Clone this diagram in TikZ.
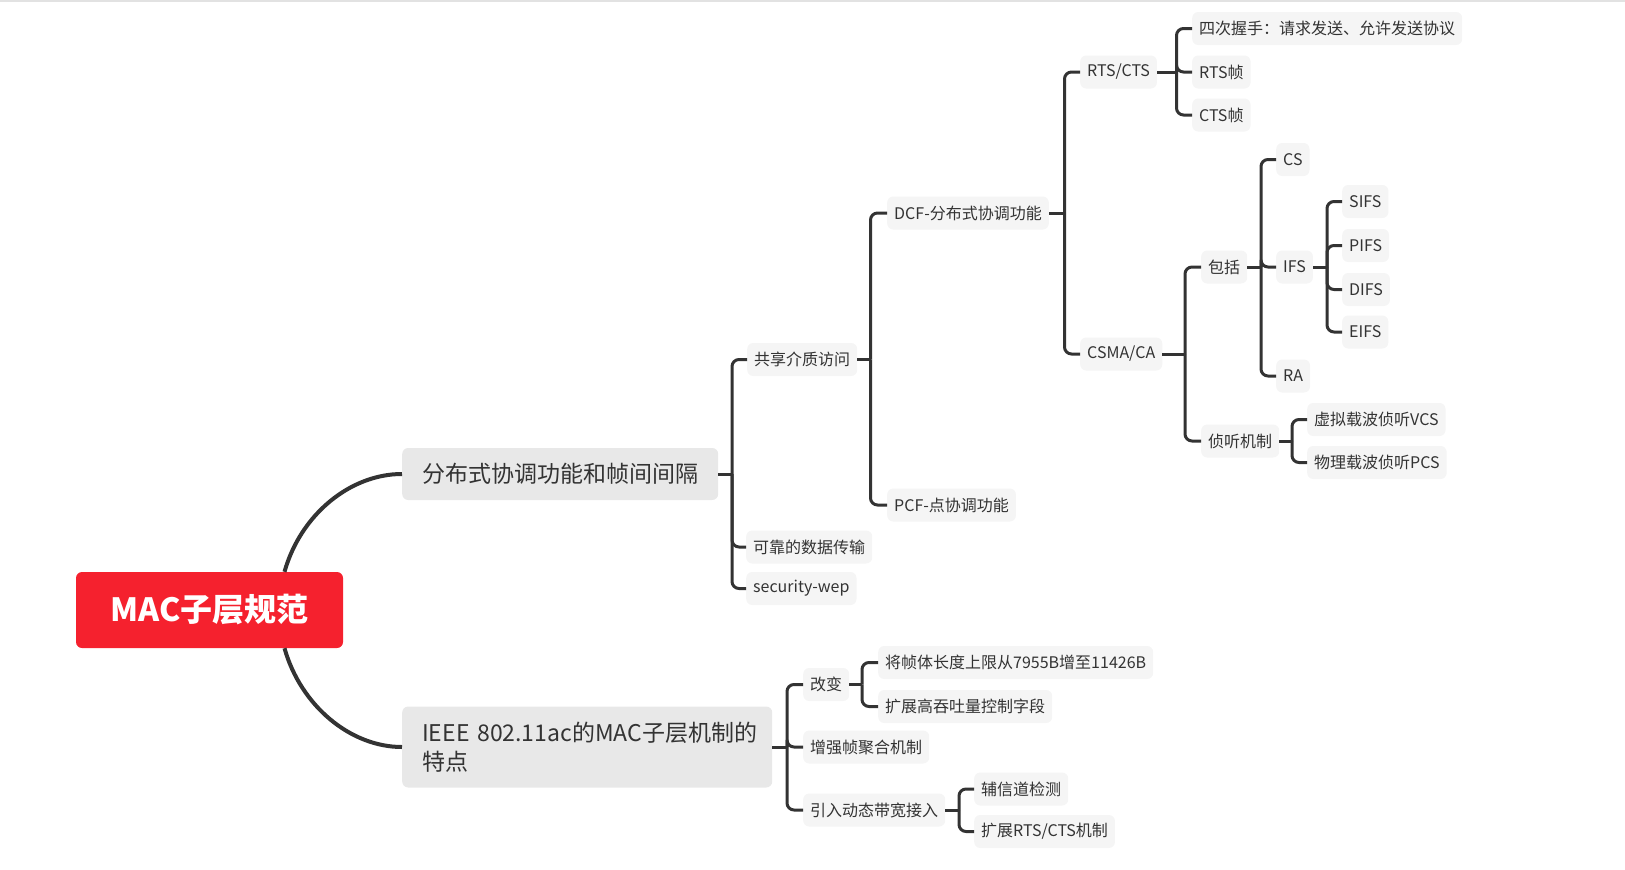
\documentclass[tikz,border=0pt]{standalone}
\usepackage{fontspec}
\newfontfamily\cjk{Noto Sans CJK SC}
\usetikzlibrary{calc}
\definecolor{rootred}{HTML}{F5212E}
\definecolor{lonefill}{HTML}{E8E8E8}
\definecolor{leaffill}{HTML}{F5F5F5}
\definecolor{linec}{HTML}{333333}
\definecolor{textc}{HTML}{333333}
\definecolor{topline}{HTML}{E2E2E2}
\begin{document}
\begin{tikzpicture}[x=1pt,y=-1pt,
  conn/.style={draw=linec, line width=3pt, rounded corners=7pt},
  maincurve/.style={draw=linec, line width=4pt},
  leaf/.style={anchor=west, fill=leaffill, rounded corners=6pt, inner xsep=7pt, inner ysep=0pt,
    minimum height=33pt, text=textc, font=\cjk\fontsize{16}{19}\selectfont},
  lone/.style={anchor=west, fill=lonefill, rounded corners=6pt, inner xsep=20pt, inner ysep=0pt,
    text=textc, font=\cjk\fontsize{23}{29}\selectfont},
  rootbox/.style={fill=rootred, rounded corners=6pt, minimum width=267pt, minimum height=76pt,
    text=white, font=\cjk\bfseries\fontsize{32}{38}\selectfont}]
\useasboundingbox (0,0) rectangle (1625,870);
\fill[topline] (0,0) rectangle (1625,2);

% root
\node[rootbox] (root) at (209.5,610) {MAC子层规范};
% level 1
\node[lone, minimum height=52pt] (dcfifs) at (402,474) {分布式协调功能和帧间间隔};
\node[lone, minimum height=81pt, text width=330pt, align=left] (ieee) at (402,747)
  {\mbox{IEEE 802.11ac的MAC子层机制的}\\特点};

% branch A
\node[leaf] (share) at (747,359.5) {共享介质访问};
\node[leaf] (reliable) at (746,547) {可靠的数据传输};
\node[leaf] (sec) at (746,588.5) {security-wep};
\node[leaf] (dcf) at (887,213) {DCF-分布式协调功能};
\node[leaf] (pcf) at (887,505) {PCF-点协调功能};
\node[leaf] (rtscts) at (1080,72) {RTS/CTS};
\node[leaf] (csma) at (1080,354) {CSMA/CA};
\node[leaf] (four) at (1192,28.5) {四次握手：请求发送、允许发送协议};
\node[leaf] (rtsf) at (1192,72) {RTS帧};
\node[leaf] (ctsf) at (1192,115) {CTS帧};
\node[leaf] (incl) at (1201,267) {包括};
\node[leaf] (listen) at (1201,441) {侦听机制};
\node[leaf] (cs) at (1276,159.5) {CS};
\node[leaf] (ifs) at (1276,267) {IFS};
\node[leaf] (ra) at (1276,376) {RA};
\node[leaf] (sifs) at (1342,201.5) {SIFS};
\node[leaf] (pifs) at (1342,245.5) {PIFS};
\node[leaf] (difs) at (1342,289.5) {DIFS};
\node[leaf] (eifs) at (1342,332) {EIFS};
\node[leaf] (vcs) at (1307,419.5) {虚拟载波侦听VCS};
\node[leaf] (pcs) at (1307,462.5) {物理载波侦听PCS};

% branch B
\node[leaf] (change) at (803,684.5) {改变};
\node[leaf] (aggr) at (803,747) {增强帧聚合机制};
\node[leaf] (dyn) at (803,810) {引入动态带宽接入};
\node[leaf] (frame) at (878,662.5) {将帧体长度上限从7955B增至11426B};
\node[leaf] (htc) at (878,706.5) {扩展高吞吐量控制字段};
\node[leaf] (sec2) at (974,789) {辅信道检测};
\node[leaf] (ertscts) at (974,831.5) {扩展RTS/CTS机制};

% bus x positions
\coordinate (bA) at (732,0);
\coordinate (bShare) at (870.5,0);
\coordinate (bDcf) at (1064.5,0);
\coordinate (bRts) at (1176.5,0);
\coordinate (bCsma) at (1185,0);
\coordinate (bIncl) at (1261,0);
\coordinate (bIfs) at (1327,0);
\coordinate (bListen) at (1292,0);
\coordinate (bB) at (787,0);
\coordinate (bChange) at (862,0);
\coordinate (bDyn) at (959,0);

% main curves
\draw[maincurve] ($(root.north)+(75,0)$) .. controls ($(root.north)+(91,-57)$) and ($(dcfifs.west)+(-52,0)$) .. (dcfifs.west);
\draw[maincurve] ($(root.south)+(75,0)$) .. controls ($(root.south)+(91,57)$) and ($(ieee.west)+(-52,0)$) .. (ieee.west);

% connectors
\newcommand\branch[3]{%
  \draw[conn] (#1.east) -- (#1.east -| #2);
  \foreach \c in {#3} \draw[conn] (#1.east -| #2) |- (\c.west);
}
\branch{dcfifs}{bA}{share,reliable,sec}
\branch{share}{bShare}{dcf,pcf}
\branch{dcf}{bDcf}{rtscts,csma}
\branch{rtscts}{bRts}{four,rtsf,ctsf}
\branch{csma}{bCsma}{incl,listen}
\branch{incl}{bIncl}{cs,ifs,ra}
\branch{ifs}{bIfs}{sifs,pifs,difs,eifs}
\branch{listen}{bListen}{vcs,pcs}
\branch{ieee}{bB}{change,aggr,dyn}
\branch{change}{bChange}{frame,htc}
\branch{dyn}{bDyn}{sec2,ertscts}
\end{tikzpicture}
\end{document}
